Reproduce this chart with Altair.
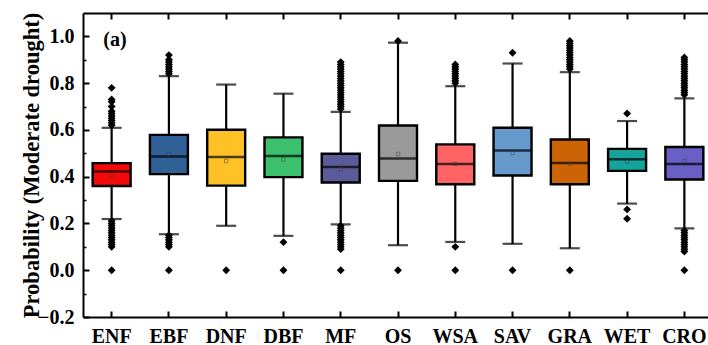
import altair as alt
import pandas as pd

# Land-cover classes and their box statistics
cats = ["ENF", "EBF", "DNF", "DBF", "MF", "OS", "WSA", "SAV", "GRA", "WET", "CRO"]
colors = ["#F20A0A", "#2F6196", "#FFC125", "#3CC06E", "#5B5B99", "#9A9A9A",
          "#FF6464", "#6699CC", "#CC6405", "#16A39B", "#6A5FC4"]
q1 = [0.360, 0.411, 0.362, 0.398, 0.375, 0.382, 0.368, 0.405, 0.368, 0.425, 0.388]
median = [0.422, 0.486, 0.484, 0.489, 0.441, 0.478, 0.454, 0.512, 0.459, 0.475, 0.454]
q3 = [0.458, 0.579, 0.601, 0.568, 0.498, 0.619, 0.538, 0.609, 0.559, 0.519, 0.527]
mean = [0.405, 0.497, 0.467, 0.473, 0.432, 0.497, 0.455, 0.502, 0.455, 0.464, 0.468]
whisk_lo = [0.219, 0.154, 0.190, 0.147, 0.196, 0.107, 0.121, 0.113, 0.094, 0.285, 0.179]
whisk_hi = [0.609, 0.830, 0.794, 0.755, 0.677, 0.973, 0.787, 0.884, 0.847, 0.638, 0.735]

# Outlying values per class
out_enf = [0.0, 0.10, 0.11, 0.12, 0.13, 0.14, 0.15, 0.16, 0.17, 0.18, 0.19, 0.20, 0.21,
           0.62, 0.63, 0.64, 0.65, 0.66, 0.67, 0.68, 0.70, 0.72, 0.73, 0.78]
out_ebf = [0.0, 0.10, 0.11, 0.12, 0.13, 0.14, 0.15,
           0.84, 0.85, 0.86, 0.87, 0.88, 0.89, 0.90, 0.92]
out_dnf = [0.0]
out_dbf = [0.0, 0.12]
out_mf = [0.0, 0.09, 0.10, 0.11, 0.12, 0.13, 0.14, 0.15, 0.16, 0.17, 0.18, 0.19,
          0.69, 0.70, 0.71, 0.72, 0.73, 0.74, 0.75, 0.76, 0.77, 0.78, 0.79, 0.80,
          0.81, 0.82, 0.83, 0.84, 0.85, 0.86, 0.87, 0.88, 0.89]
out_os = [0.0, 0.98]
out_wsa = [0.0, 0.10, 0.80, 0.81, 0.82, 0.83, 0.84, 0.85, 0.86, 0.87, 0.88]
out_sav = [0.0, 0.93]
out_gra = [0.0, 0.86, 0.87, 0.88, 0.89, 0.90, 0.91, 0.92, 0.93, 0.94, 0.95, 0.96, 0.97, 0.98]
out_wet = [0.22, 0.26, 0.67]
out_cro = [0.0, 0.08, 0.09, 0.10, 0.11, 0.12, 0.13, 0.14, 0.15, 0.16, 0.17,
           0.75, 0.76, 0.77, 0.78, 0.79, 0.80, 0.81, 0.82, 0.83, 0.84, 0.85,
           0.86, 0.87, 0.88, 0.89, 0.90, 0.91]
outliers = [out_enf, out_ebf, out_dnf, out_dbf, out_mf, out_os,
            out_wsa, out_sav, out_gra, out_wet, out_cro]

major_ticks = [-0.2, 0.0, 0.2, 0.4, 0.6, 0.8, 1.0]
minor_ticks = [-0.1, 0.1, 0.3, 0.5, 0.7, 0.9]

stats = pd.DataFrame({"cat": cats, "q1": q1, "median": median, "q3": q3,
                      "mean": mean, "lo": whisk_lo, "hi": whisk_hi})
out_df = pd.DataFrame([{"cat": c, "value": v} for c, vals in zip(cats, outliers) for v in vals])

FONT = "Liberation Serif"

xscale = alt.Scale(domain=cats, range=[0, 630], paddingInner=0, paddingOuter=0)
yscale = alt.Scale(domain=[-0.2, 1.1], nice=False, zero=False)
color = alt.Color("cat:N", scale=alt.Scale(domain=cats, range=colors), legend=None)

no_axis = None

# boxes carry the labelled axes (ticks pulled inside the frame)
boxes = alt.Chart(stats).mark_bar(size=38, stroke="black", strokeWidth=2.4).encode(
    x=alt.X("cat:N", scale=xscale, sort=cats,
            axis=alt.Axis(orient="bottom", title=None, labelAngle=0, domain=False,
                          offset=-6, tickSize=6, tickWidth=2, labelPadding=9,
                          labelFontSize=20)),
    y=alt.Y("q1:Q", scale=yscale,
            axis=alt.Axis(orient="left", values=major_ticks, format=".1f", domain=False,
                          offset=-6, tickSize=6, tickWidth=2, labelPadding=9,
                          labelFontSize=20, title="Probability (Moderate drought)",
                          titleFontSize=22.5, titlePadding=-6, titleLimit=600)),
    y2="q3:Q",
    color=color,
)

# whiskers carry the frame on the left, top and bottom
whisk_low = alt.Chart(stats).mark_rule(color="black", strokeWidth=2.2).encode(
    x=alt.X("cat:N", scale=xscale, sort=cats,
            axis=alt.Axis(orient="top", title=None, domain=True, domainWidth=2,
                          ticks=False, labels=False)),
    y=alt.Y("lo:Q", scale=yscale,
            axis=alt.Axis(orient="left", title=None, domain=True, domainWidth=2,
                          ticks=False, labels=False)),
    y2="q1:Q",
)
whisk_high = alt.Chart(stats).mark_rule(color="black", strokeWidth=2.2).encode(
    x=alt.X("cat:N", scale=xscale, sort=cats,
            axis=alt.Axis(orient="bottom", title=None, domain=True, domainWidth=2,
                          ticks=False, labels=False)),
    y=alt.Y("q3:Q", scale=yscale,
            axis=alt.Axis(orient="left", title=None, values=minor_ticks, domain=False,
                          offset=-3, tickSize=3, tickWidth=1.5, labels=False)),
    y2="hi:Q",
)

cap_lo = alt.Chart(stats).mark_tick(size=20, thickness=2.2, color="black").encode(
    x=alt.X("cat:N", scale=xscale, sort=cats,
            axis=alt.Axis(orient="top", title=None, domain=False, offset=-6,
                          tickSize=6, tickWidth=2, labels=False)),
    y=alt.Y("lo:Q", scale=yscale, axis=no_axis),
)
cap_hi = alt.Chart(stats).mark_tick(size=20, thickness=2.2, color="black").encode(
    x=alt.X("cat:N", scale=xscale, sort=cats, axis=no_axis),
    y=alt.Y("hi:Q", scale=yscale, axis=no_axis),
)

med_line = alt.Chart(stats).mark_tick(size=37, thickness=2.5, color="black").encode(
    x=alt.X("cat:N", scale=xscale, sort=cats, axis=no_axis),
    y=alt.Y("median:Q", scale=yscale, axis=no_axis),
)

mean_pt = alt.Chart(stats).mark_point(shape="square", size=12, filled=False,
                                      color="#444444", strokeWidth=0.7).encode(
    x=alt.X("cat:N", scale=xscale, sort=cats, axis=no_axis),
    y=alt.Y("mean:Q", scale=yscale, axis=no_axis),
)

out_pts = alt.Chart(out_df).mark_point(shape="diamond", size=62, filled=True,
                                       color="black", opacity=1).encode(
    x=alt.X("cat:N", scale=xscale, sort=cats, axis=no_axis),
    y=alt.Y("value:Q", scale=yscale, axis=no_axis),
)

panel_tag = alt.Chart(pd.DataFrame({"t": ["(a)"]})).mark_text(
    font=FONT, fontSize=20, fontWeight="bold", color="black", align="center",
    baseline="middle").encode(
    x=alt.value(32), y=alt.value(27), text="t:N")

chart = alt.layer(
    boxes, whisk_low, whisk_high, cap_lo, cap_hi, med_line, mean_pt, out_pts, panel_tag
).resolve_axis(x="independent", y="independent").properties(
    width=625, height=304,
    autosize=alt.AutoSizeParams(type="none"),
    padding={"left": 83, "top": 13, "right": 0, "bottom": 28},
).configure_view(stroke=None).configure_axis(
    labelFont=FONT, titleFont=FONT, labelFontWeight="bold", titleFontWeight="bold",
    labelColor="black", titleColor="black", tickColor="black", domainColor="black",
    grid=False,
)

chart.save("out.html", embed_options={"renderer": "svg", "actions": False})
